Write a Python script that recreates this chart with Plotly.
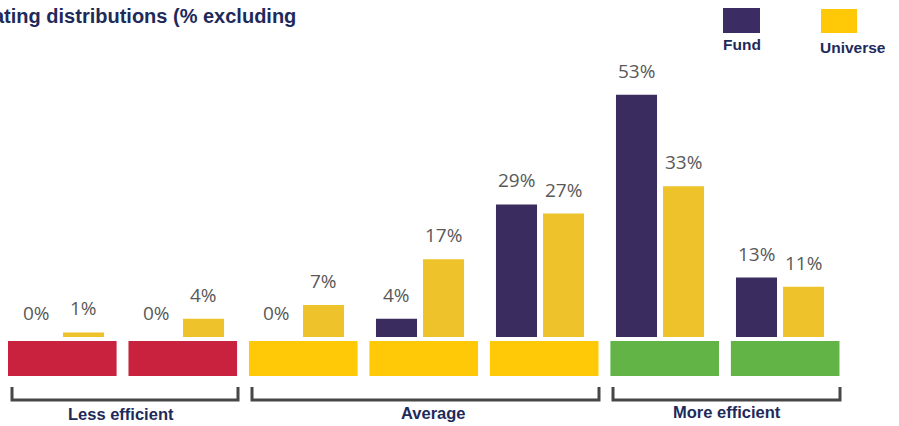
import plotly.graph_objects as go

categories = ["1", "2", "3", "4", "5", "6", "7"]
fund = [0, 0, 0, 4, 29, 53, 13]
universe = [1, 4, 7, 17, 27, 33, 11]
band_colors = ["#C8223F", "#C8223F", "#FFC907", "#FFC907", "#FFC907", "#62B446", "#62B446"]
groups = ["Less efficient", "Average", "More efficient"]
title_text = "ating distributions (% excluding"

W, H = 899, 426
NAVY = "#1E2A5A"
FUND_C = "#3A2C5E"
UNIV_C = "#EDC22A"

xs = list(range(len(categories)))
fig = go.Figure()
bw = 0.342
fig.add_trace(go.Bar(x=xs, y=fund, width=bw, offset=-0.371, marker=dict(color=FUND_C, line=dict(width=0)),
                     name="Fund", showlegend=False))
fig.add_trace(go.Bar(x=xs, y=universe, width=bw, offset=0.021, marker=dict(color=UNIV_C, line=dict(width=0)),
                     name="Universe", showlegend=False))

lab_font = dict(family="Open Sans, Arial", size=19, color="#595959")
for i, (f, u) in enumerate(zip(fund, universe)):
    fig.add_annotation(x=i - 0.371 + bw / 2, y=f, text=f"{f}%", showarrow=False,
                       yanchor="middle", yshift=24, font=lab_font)
    fig.add_annotation(x=i + 0.021 + bw / 2, y=u, text=f"{u}%", showarrow=False,
                       yanchor="middle", yshift=24, font=lab_font)

# category bands
for i, c in enumerate(band_colors):
    x0 = i * 1.004 - 0.4375
    fig.add_shape(type="rect", xref="x", yref="y", x0=x0, x1=x0 + 0.905, y0=-8.55, y1=-0.9,
                  fillcolor=c, line=dict(width=0), layer="below")

# brackets (pixel coords -> paper)
def px(x):
    return x / W

def py(y):
    return 1 - y / H

brackets = [(12, 238), (252, 599), (613, 840)]
label_pos = [(121, 414), (433, 413), (727, 412)]
for (a, b), (lx, ly), g in zip(brackets, label_pos, groups):
    path = f"M {px(a)},{py(387)} L {px(a)},{py(400)} L {px(b)},{py(400)} L {px(b)},{py(387)}"
    fig.add_shape(type="path", xref="paper", yref="paper", path=path,
                  line=dict(color="#474747", width=3))
    fig.add_annotation(xref="paper", yref="paper", x=px(lx), y=py(ly), text=f"<b>{g}</b>",
                       showarrow=False, xanchor="center", yanchor="middle",
                       font=dict(family="Arial", size=16.5, color=NAVY))

# legend
fig.add_shape(type="rect", xref="paper", yref="paper", x0=px(723), x1=px(760), y0=py(33), y1=py(8),
              fillcolor="#3B2D63", line=dict(width=0))
fig.add_shape(type="rect", xref="paper", yref="paper", x0=px(821), x1=px(857), y0=py(33), y1=py(9),
              fillcolor="#FFC907", line=dict(width=0))
fig.add_annotation(xref="paper", yref="paper", x=px(742), y=py(45), text="<b>Fund</b>", showarrow=False,
                   xanchor="center", yanchor="middle", font=dict(family="Arial", size=15.5, color=NAVY))
fig.add_annotation(xref="paper", yref="paper", x=px(853), y=py(47), text="<b>Universe</b>", showarrow=False,
                   xanchor="center", yanchor="middle", font=dict(family="Arial", size=15.5, color=NAVY))

# title (clipped at left, as in the reference)
fig.add_annotation(xref="paper", yref="paper", x=px(298), y=py(16), text=f"<b>{title_text}</b>",
                   showarrow=False, xanchor="right", yanchor="middle",
                   font=dict(family="Arial", size=20, color=NAVY))

fig.update_layout(
    width=W, height=H, margin=dict(l=0, r=0, t=0, b=0),
    paper_bgcolor="white", plot_bgcolor="white",
    xaxis=dict(range=[-60.5 / 120, (W - 60.5) / 120], visible=False, fixedrange=True),
    yaxis=dict(range=[(337 - H) / 4.57, 337 / 4.57], visible=False, fixedrange=True),
    barmode="overlay", showlegend=False,
)

fig.write_html("out.html")
